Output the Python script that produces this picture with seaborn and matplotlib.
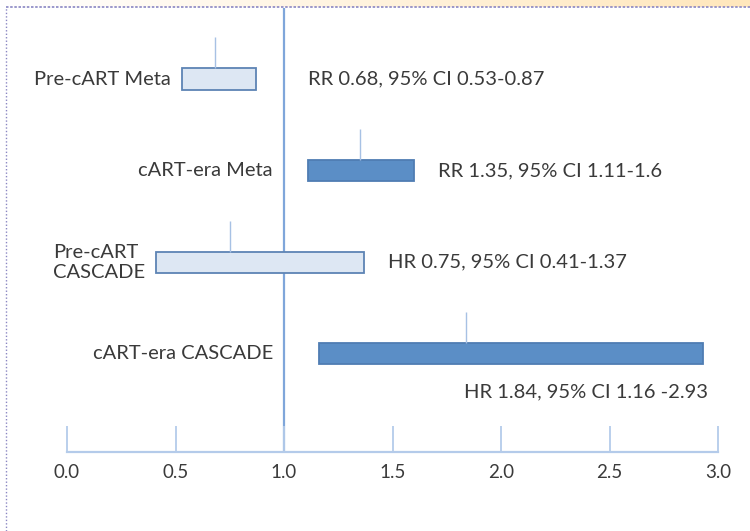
import numpy as np
import pandas as pd
import seaborn as sns
import matplotlib.pyplot as plt
from matplotlib.lines import Line2D
from matplotlib.colors import LinearSegmentedColormap

# dados do gráfico
estudos = ['Pre-cART Meta', 'cART-era Meta', 'Pre-cART\nCASCADE', 'cART-era CASCADE']
estimativa = [0.68, 1.35, 0.75, 1.84]
ic_inferior = [0.53, 1.11, 0.41, 1.16]
ic_superior = [0.87, 1.60, 1.37, 2.93]
rotulos = ['RR 0.68, 95% CI 0.53-0.87', 'RR 1.35, 95% CI 1.11-1.6',
           'HR 0.75, 95% CI 0.41-1.37', 'HR 1.84, 95% CI 1.16 -2.93']
eixo_ticks = [0.0, 0.5, 1.0, 1.5, 2.0, 2.5, 3.0]

cor_clara = '#DDE7F3'
cor_escura = '#5B8EC6'
cores = [cor_clara, cor_escura, cor_clara, cor_escura]
bordas = ['#5D84B4', '#4F7DB3', '#5D84B4', '#4F7DB3']
cor_texto = '#3A3A3A'
cor_eixo = '#B4CBEA'
tam_fonte = 14.5

sns.set_style('white')
plt.rcParams['font.family'] = ['Lato', 'DejaVu Sans']

df = pd.DataFrame({'estudo': estudos,
                   'inferior': ic_inferior,
                   'superior': ic_superior})
df['largura'] = df['superior'] - df['inferior']

fig = plt.figure(figsize=(7.5, 5.31), dpi=100)
W, H = 750, 531

# faixa em degradê e borda pontilhada
faixa = fig.add_axes([0, 1 - 7 / H, 1, 7 / H])
grad = np.linspace(0, 1, 256).reshape(1, -1)
cmap_faixa = LinearSegmentedColormap.from_list('f', ['#FFFFFF', '#FFE7BC'])
faixa.imshow(grad, aspect='auto', cmap=cmap_faixa, extent=[0, 1, 0, 1])
faixa.axis('off')
fig.add_artist(Line2D([6 / W, 1], [1 - 7 / H, 1 - 7 / H], color='#8A86C2',
                      lw=1.2, ls=(0, (1.5, 1)), transform=fig.transFigure))
fig.add_artist(Line2D([6 / W, 6 / W], [0, 1 - 7 / H], color='#8A86C2',
                      lw=1.0, ls=(0, (1, 1.5)), transform=fig.transFigure))

ax = fig.add_axes([67 / W, 1 - 452 / H, (718 - 67) / W, (452 - 8) / H])

altura = 0.23
sns.barplot(data=df, x='largura', y='estudo', width=altura, ax=ax, orient='h')
# desloca cada barra para começar no limite inferior do IC
for barra, ini, c, b in zip(ax.patches, ic_inferior, cores, bordas):
    barra.set_x(ini)
    barra.set_facecolor(c)
    barra.set_edgecolor(b)
    barra.set_linewidth(1.3)

pos = np.arange(len(estudos))
# linha vertical da estimativa pontual
ax.vlines(estimativa, pos - altura / 2 - 0.34, pos - altura / 2,
          color='#A7C1E4', lw=1.0, zorder=1)

# linha de referência em 1.0
ax.axvline(1.0, color='#7FA6DA', lw=1.6, zorder=0)

ax.set_xlim(0, 3)
ax.set_ylim(4.07, -0.775)
ax.set_xticks(eixo_ticks)
ax.set_xticklabels([f'{t:.1f}' for t in eixo_ticks])
ax.set_yticks([])
ax.set_xlabel('')
ax.set_ylabel('')
for lado in ['top', 'left', 'right']:
    ax.spines[lado].set_visible(False)
ax.spines['bottom'].set_color(cor_eixo)
ax.spines['bottom'].set_linewidth(1.6)
ax.tick_params(axis='x', direction='in', length=19, width=1.3, color=cor_eixo,
               labelsize=13.5, labelcolor=cor_texto, pad=9, bottom=True)

# rótulos dos estudos
for i, nome in enumerate(estudos):
    inicio = min(ic_inferior[i], 1.0)
    ax.annotate(nome, (inicio, pos[i]), xytext=(-8, 0), textcoords='offset points',
                ha='right', va='center', fontsize=tam_fonte, color=cor_texto,
                multialignment='left', linespacing=1.2)

# rótulos das estimativas
for i, txt in enumerate(rotulos):
    if i < len(rotulos) - 1:
        fim = max(ic_superior[i], 1.0)
        ax.annotate(txt, (fim, pos[i]), xytext=(17, 0), textcoords='offset points',
                    ha='left', va='center', fontsize=tam_fonte, color=cor_texto)
    else:
        ax.annotate(txt, (ic_superior[i], pos[i]), xytext=(4, -27),
                    textcoords='offset points', ha='right', va='center',
                    fontsize=tam_fonte, color=cor_texto)

fig.savefig('out.png', dpi=100)
